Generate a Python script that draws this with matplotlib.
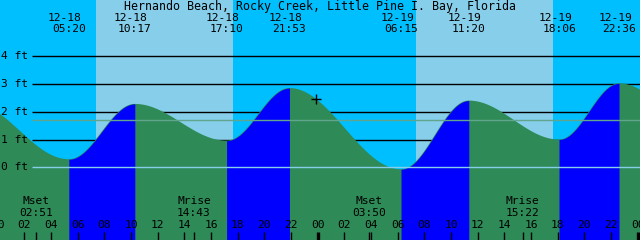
import numpy as np
import matplotlib
matplotlib.use('Agg')
import matplotlib.pyplot as plt

# tide extremes shown on the chart (date, time, height in ft)
tide_dates = ['12-18', '12-18', '12-18', '12-18', '12-19', '12-19', '12-19', '12-19']
tide_times = ['05:20', '10:17', '17:10', '21:53', '06:15', '11:20', '18:06', '22:36']
tide_ft = [0.29, 2.28, 0.96, 2.85, -0.07, 2.40, 1.00, 3.02]
# extremes just outside the window, guessed from the curve at the edges
prev_ext = ('12-17', '22:00', 2.33)
next_ext = ('12-20', '07:30', 0.00)

sun_rise = ['07:22', '07:22']
sun_set = ['17:41', '17:41']

moon_labels = ['Mset', 'Mrise', 'Mset', 'Mrise']
moon_dates = ['12-18', '12-18', '12-19', '12-19']
moon_times = ['02:51', '14:43', '03:50', '15:22']

ft_levels = [0, 1, 2, 3, 4]
mean_level = 1.69
now_time = 23.88
now_ft = 2.45

title = 'Hernando Beach, Rocky Creek, Little Pine I. Bay, Florida'
day_names = {'12-17': -1, '12-18': 0, '12-19': 1, '12-20': 2}

NIGHT = '#00BFFF'
DAY = '#87CEEB'
RISE = '#0000FF'
FALL = '#2E8B57'
FONT = dict(family='DejaVu Sans Mono', fontsize=8.1)


def hrs(date, s):
    h, m = s.split(':')
    return day_names[date] * 24 + int(h) + int(m) / 60.0


def ypix(y):  # pixel row -> axes fraction
    return 1 - y / 240.0


t_ext = [hrs(prev_ext[0], prev_ext[1])] + [hrs(d, s) for d, s in zip(tide_dates, tide_times)] + [hrs(next_ext[0], next_ext[1])]
h_ext = [prev_ext[2]] + tide_ft + [next_ext[2]]

x0, x1 = 2.3 / 13.333, 642.3 / 13.333
y0, y1 = -2.615, 6.018

fig = plt.figure(figsize=(6.4, 2.4), dpi=100)
ax = fig.add_axes([0, 0, 1, 1])
ax.set_xlim(x0, x1)
ax.set_ylim(y0, y1)
ax.axis('off')

# night / day background
ax.axvspan(x0, x1, color=NIGHT, zorder=0, lw=0)
for d in range(2):
    day = ['12-18', '12-19'][d]
    ax.axvspan(hrs(day, sun_rise[d]), hrs(day, sun_set[d]), color=DAY, zorder=0.5, lw=0)

# black grid lines sit behind the water
xs_line = (32 + 2.3) / 13.333
ax.hlines(ft_levels[1:], xs_line, x1, colors='black', lw=1.0, zorder=1)

# tide curve through the extremes
tt, hh_all, rising = [], [], []
for i in range(len(t_ext) - 1):
    ta, tb = t_ext[i], t_ext[i + 1]
    ha, hb = h_ext[i], h_ext[i + 1]
    t = np.linspace(ta, tb, 200)
    h = hb + (ha - hb) * (1 + np.cos(np.pi * (t - ta) / (tb - ta))) / 2
    tt.append(t)
    hh_all.append(h)
    rising.append(hb > ha)

# whole water green (falling), then blue where rising
ax.fill_between(np.concatenate(tt), y0, np.concatenate(hh_all), color=FALL, lw=0, zorder=2)
for t, h, r in zip(tt, hh_all, rising):
    if r:
        ax.fill_between(t, y0, h, color=RISE, lw=0, zorder=2.1)

ax.hlines([0], xs_line, x1, colors='#87CEEB', lw=1.0, zorder=3)
ax.hlines([mean_level], xs_line, x1, colors='#62A58E', lw=1.0, zorder=3)

ax.plot([now_time], [now_ft], marker='+', color='black', ms=7, mew=1.0, zorder=4)

for lv in ft_levels:
    ax.text(1 / 640.0, lv, '%d ft' % lv, transform=ax.get_yaxis_transform(), ha='left', va='center', **FONT)

tr = ax.get_xaxis_transform()
ax.text(0.5, ypix(6.5), title, transform=ax.transAxes, ha='center', va='center',
        family='DejaVu Sans Mono', fontsize=8.4)
for d, s in zip(tide_dates, tide_times):
    t = hrs(d, s)
    ax.text(t - 4 / 13.333, ypix(18), d, transform=tr, ha='center', va='center', **FONT)
    ax.text(t, ypix(29.5), s, transform=tr, ha='center', va='center', **FONT)

# hour ticks along the bottom
for hh in range(0, 50, 2):
    ax.text(hh, ypix(225), '%02d' % (hh % 24), transform=tr, ha='center', va='center', **FONT)
    lw = 2.4 if hh % 24 == 0 else 1.0
    ax.plot([hh, hh], [ypix(232), ypix(240)], transform=tr, color='black', lw=lw, zorder=5, solid_capstyle='butt')

for lab, d, s in zip(moon_labels, moon_dates, moon_times):
    t = hrs(d, s)
    ax.text(t, ypix(201.5), lab, transform=tr, ha='center', va='center', **FONT)
    ax.text(t, ypix(213), s, transform=tr, ha='center', va='center', **FONT)
    ax.plot([t, t], [ypix(232), ypix(240)], transform=tr, color='black', lw=1.0, zorder=5, solid_capstyle='butt')

fig.savefig('out.png', dpi=100)
